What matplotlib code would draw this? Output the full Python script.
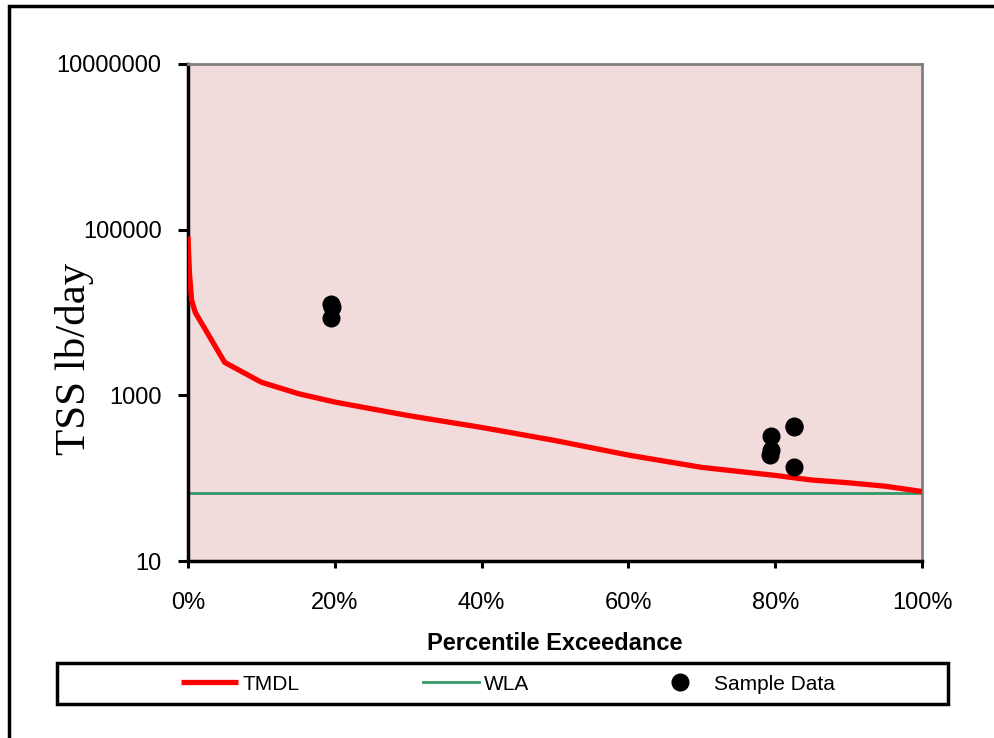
import matplotlib.pyplot as plt
from matplotlib.patches import Rectangle
from matplotlib.ticker import FuncFormatter, FixedLocator, NullLocator

# load duration curve (fraction of time exceeded vs lb/day)
tmdl_x = [0.0, 0.002, 0.005, 0.01, 0.05, 0.10, 0.15, 0.20, 0.30, 0.40, 0.50,
          0.60, 0.70, 0.80, 0.85, 0.90, 0.95, 1.00]
tmdl_y = [83000, 30000, 14000, 10000, 2500, 1440, 1050, 830, 570, 410, 285,
          190, 135, 108, 95, 88, 80, 69]

wla_value = 66

sample_x = [0.195, 0.196, 0.195, 0.794, 0.794, 0.793, 0.825, 0.825, 0.826]
sample_y = [12600, 11800, 8700, 320, 220, 190, 424, 410, 136]

fig = plt.figure(figsize=(9.94, 7.38), dpi=100)
ax = fig.add_axes([0.1891, 0.2398, 0.7385, 0.6735])
ax.set_facecolor('#F2DCDB')

ax.plot(tmdl_x, tmdl_y, color='#FF0000', lw=3.8, label='TMDL', solid_capstyle='butt', zorder=3)
ax.axhline(wla_value, color='#339966', lw=2, label='WLA', zorder=2)
ax.plot(sample_x, sample_y, 'o', color='black', ms=12, label='Sample Data', zorder=4)

ax.set_yscale('log')
ax.set_ylim(10, 1e7)
ax.set_xlim(0, 1)
ax.yaxis.set_major_locator(FixedLocator([10, 1000, 100000, 10000000]))
ax.yaxis.set_minor_locator(NullLocator())
ax.yaxis.set_major_formatter(FuncFormatter(lambda v, p: '%d' % round(v)))
ax.set_xticks([0, 0.2, 0.4, 0.6, 0.8, 1.0])
ax.xaxis.set_major_formatter(FuncFormatter(lambda v, p: '%d%%' % round(v * 100)))

for lbl in ax.get_xticklabels() + ax.get_yticklabels():
    lbl.set_fontfamily('Liberation Sans')
    lbl.set_fontsize(17)
ax.tick_params(axis='y', direction='out', length=7, width=2.2, pad=12)
ax.tick_params(axis='x', direction='out', length=5, width=2.2, pad=17)

ax.spines['left'].set_linewidth(2.5)
ax.spines['bottom'].set_linewidth(2.5)
ax.spines['top'].set_color('#808080')
ax.spines['right'].set_color('#808080')
ax.spines['top'].set_linewidth(2)
ax.spines['right'].set_linewidth(2)

ax.set_ylabel('TSS lb/day', fontfamily='Liberation Serif', fontsize=31)
ax.yaxis.set_label_coords(-0.128, 0.406)
ax.set_xlabel('Percentile Exceedance', fontfamily='Liberation Sans', fontsize=17,
              fontweight='bold', labelpad=13)

# legend box frame, entries centred inside it
fig.patches.append(Rectangle((57 / 994, 1 - 704 / 738), 891 / 994, 41 / 738,
                             transform=fig.transFigure, fill=False,
                             edgecolor='black', lw=2.5))
fig.legend(loc='center', bbox_to_anchor=(508 / 994, 1 - 684 / 738),
           ncol=3, frameon=False,
           prop={'family': 'Liberation Sans', 'size': 15},
           handlelength=2.7, handletextpad=0.25, borderaxespad=0,
           columnspacing=5.9)

# outer chart border
fig.patches.append(Rectangle((9 / 994, -0.05), 1.05, 1 - 6 / 738 + 0.05,
                             transform=fig.transFigure, fill=False,
                             edgecolor='black', lw=2.5))

fig.savefig('out.png', dpi=100)
